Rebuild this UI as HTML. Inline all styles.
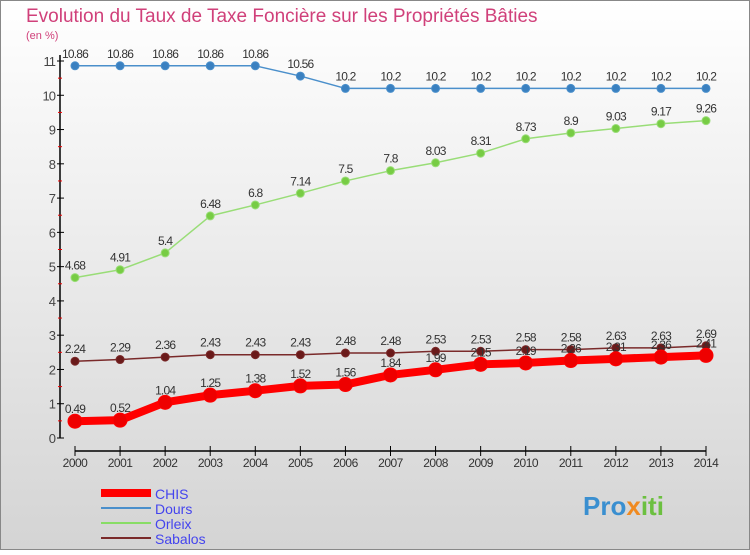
<!DOCTYPE html>
<html><head><meta charset="utf-8"><style>
body{margin:0;width:750px;height:550px;overflow:hidden;font-family:"Liberation Sans",sans-serif}
</style></head><body>
<svg width="750" height="550" xmlns="http://www.w3.org/2000/svg">
<defs><linearGradient id="bg" x1="0" y1="0" x2="0" y2="1"><stop offset="0" stop-color="#ffffff"/><stop offset="1" stop-color="#d4d4d4"/></linearGradient></defs>
<rect x="0.5" y="0.5" width="749" height="549" fill="url(#bg)" stroke="#888"/>
<text x="26" y="22" font-size="19" fill="#d0407a">Evolution du Taux de Taxe Foncière sur les Propriétés Bâties</text>
<text x="26" y="39" font-size="11" fill="#d0407a">(en %)</text>
<g id="axes"></g><g id="series"></g>
<g font-size="14">
<line x1="101" y1="493" x2="151" y2="493" stroke="#ff0000" stroke-width="8"/>
<text x="155" y="499" fill="#4444ee">CHIS</text>
<line x1="101" y1="508" x2="151" y2="508" stroke="#4a8fcb" stroke-width="2"/>
<text x="155" y="514" fill="#4444ee">Dours</text>
<line x1="101" y1="523" x2="151" y2="523" stroke="#88dd66" stroke-width="2"/>
<text x="155" y="529" fill="#4444ee">Orleix</text>
<line x1="101" y1="538" x2="151" y2="538" stroke="#7a2a2a" stroke-width="2"/>
<text x="155" y="544" fill="#4444ee">Sabalos</text>
</g>
<text x="583" y="515" font-size="26" font-weight="bold" fill="#3a8fd0">Pro<tspan fill="#f08a20">x</tspan><tspan fill="#6cc040">iti</tspan></text>
</svg>
<script>
const years=[2000,2001,2002,2003,2004,2005,2006,2007,2008,2009,2010,2011,2012,2013,2014];
const chis=[0.49,0.52,1.04,1.25,1.38,1.52,1.56,1.84,1.99,2.15,2.19,2.26,2.31,2.36,2.41];
const dours=[10.86,10.86,10.86,10.86,10.86,10.56,10.2,10.2,10.2,10.2,10.2,10.2,10.2,10.2,10.2];
const orleix=[4.68,4.91,5.4,6.48,6.8,7.14,7.5,7.8,8.03,8.31,8.73,8.9,9.03,9.17,9.26];
const sabalos=[2.24,2.29,2.36,2.43,2.43,2.43,2.48,2.48,2.53,2.53,2.58,2.58,2.63,2.63,2.69];
const yTicks=[0,1,2,3,4,5,6,7,8,9,10,11];
const NS="http://www.w3.org/2000/svg";
const x=i=>75+i*(706-75)/(years.length-1);
const y=v=>438-v*(438-61)/11;
function mk(t,a,p){const e=document.createElementNS(NS,t);for(const k in a)e.setAttribute(k,a[k]);p.appendChild(e);return e;}
const ax=document.getElementById('axes');
const yl=mk('line',{x1:60,y1:y(11)-6,x2:60,y2:y(0),stroke:'#000','stroke-width':1.5},ax);


const xl=mk('line',{x1:x(0),y1:451,x2:x(14),y2:451,stroke:'#000','stroke-width':1.5},ax);


yTicks.forEach(v=>{
 mk('line',{x1:57,y1:y(v),x2:64,y2:y(v),stroke:'#000'},ax);
 if(v<11) mk('line',{x1:58,y1:y(v+0.5),x2:62,y2:y(v+0.5),stroke:'#e00'},ax);
 const t=mk('text',{x:55,y:y(v)+5,'text-anchor':'end','font-size':13,fill:'#444','letter-spacing':'-1'},ax);t.textContent=v;
 
 
});
years.forEach((yr,i)=>{
 mk('line',{x1:x(i),y1:446,x2:x(i),y2:456,stroke:'#000'},ax);
 const t=mk('text',{x:x(i),y:467,'text-anchor':'middle','font-size':12,fill:'#333','letter-spacing':'-0.5'},ax);t.textContent=yr;
 
 
});
const sg=document.getElementById('series');
function draw(name,vals,color,w,r,dotColor){
 const g=mk('g',{},sg);
 
 
 const pl=mk('polyline',{points:vals.map((v,i)=>x(i)+','+y(v)).join(' '),fill:'none',stroke:color,'stroke-width':w,'stroke-linejoin':'round'},g);
 
 
 vals.forEach((v,i)=>{
  const c=mk('circle',{cx:x(i),cy:y(v),r:r,fill:dotColor,stroke:color,'stroke-width':1},g);
  
  
  const t=mk('text',{x:x(i),y:y(v)-8,'text-anchor':'middle','font-size':12,fill:'#333','letter-spacing':'-0.8'},g);t.textContent=v;
  
  
 });
}
draw('sabalos',sabalos,'#7a2a2a',1.5,4,'#6a1a1a');
draw('orleix',orleix,'#99dd77',1.5,4,'#77cc44');
draw('dours',dours,'#4a8fcb',1.5,4,'#3a80c0');
draw('chis',chis,'#ff0000',8,7,'#ee0000');
</script>
</body></html>
